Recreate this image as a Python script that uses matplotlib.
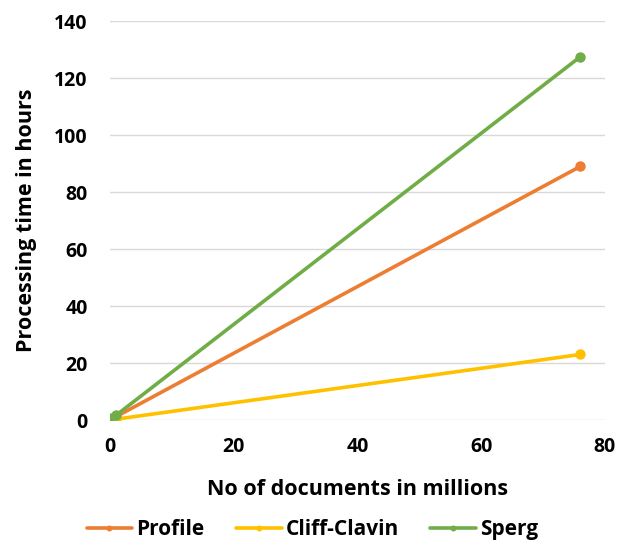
import matplotlib
matplotlib.use("Agg")
import matplotlib.pyplot as plt

docs_millions = [0, 1, 76]
profile_hours = [0.2, 1.2, 89]
cliff_clavin_hours = [0.1, 0.3, 23]
sperg_hours = [0.6, 1.7, 127.5]

series = [
    ("Profile", profile_hours, "#ED7D31"),
    ("Cliff-Clavin", cliff_clavin_hours, "#FFC000"),
    ("Sperg", sperg_hours, "#70AD47"),
]

plt.rcParams["font.family"] = ["Open Sans", "DejaVu Sans"]
plt.rcParams["font.weight"] = "bold"

fig = plt.figure(figsize=(6.25, 5.43), dpi=100)
ax = fig.add_axes([0.176, 0.2265, 0.792, 0.7345])

for name, vals, color in series:
    ax.plot(docs_millions, vals, color=color, lw=2.6, marker="o", ms=6.5,
            label=name, solid_capstyle="round", zorder=3)

ax.set_xlim(0, 80)
ax.set_ylim(0, 140)
ax.set_xticks(range(0, 81, 20))
ax.set_yticks(range(0, 141, 20))
ax.grid(axis="y", color="#D9D9D9", lw=1)
ax.set_axisbelow(True)
for s in ax.spines.values():
    s.set_visible(False)
ax.tick_params(axis="y", length=0, labelsize=14, pad=16)
ax.tick_params(axis="x", length=0, labelsize=14, pad=12)
for lab in ax.get_xticklabels() + ax.get_yticklabels():
    lab.set_fontweight("bold")

ax.set_xlabel("No of documents in millions", fontsize=15.5, fontweight="bold", labelpad=16)
ax.set_ylabel("Processing time in hours", fontsize=15.5, fontweight="bold", labelpad=12)

leg = fig.legend(loc="center", bbox_to_anchor=(0.5, 0.025), ncol=3, frameon=False,
                 fontsize=15, handlelength=2.2, columnspacing=1.5, handletextpad=0.2,
                 markerscale=0.5)
for t in leg.get_texts():
    t.set_fontweight("bold")

fig.savefig("out.png", dpi=100, facecolor="white")
